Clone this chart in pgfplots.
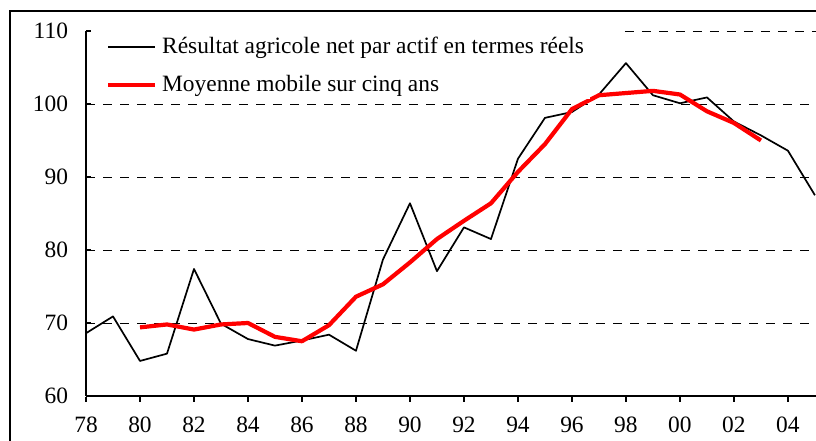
\documentclass[border=0pt]{standalone}
\usepackage{pgfplots}
\pgfplotsset{compat=1.18}
\usepackage{fontspec}
\setmainfont{Liberation Serif}
\definecolor{myred}{RGB}{255,0,0}
\begin{document}
\fontsize{23.5}{28}\selectfont
\begin{tikzpicture}[x=1bp,y=1bp]
\useasboundingbox (0,0) rectangle (816,441);
\draw[line width=1.5bp] (10,-5) -- (10,430) -- (830,430);
\begin{axis}[
  at={(86bp,45bp)}, anchor=south west, scale only axis,
  width=730bp, height=365bp,
  xmin=78, xmax=105.04, ymin=60, ymax=110,
  axis lines=left, axis line style={-, line width=1.5bp, black},
  /pgf/number format/assume math mode=true,
  xtick={78,80,...,104},
  xticklabels={78,80,82,84,86,88,90,92,94,96,98,00,02,04},
  ytick={60,70,...,100}, extra y ticks={110}, extra y tick style={grid=none},
  ymajorgrids, grid style={dash pattern=on 9bp off 8bp, black, line width=0.9bp},
  tick align=inside, major tick length=5bp,
  tick style={black, line width=1.5bp},
  xtick style={yshift=-6bp},
  xticklabel style={yshift=-13bp},
  yticklabel style={xshift=-10bp},
  clip=true,
  legend style={at={(0.0216,0.995)}, anchor=north west, fill=white, draw=none,
     inner xsep=4bp, inner ysep=2bp, row sep=14bp},
  legend cell align=left,
  legend image code/.code={\draw[#1] (0bp,0bp) -- (47bp,0bp); \path (50bp,0bp);},
]
\addplot[black, line width=1.7bp, line join=round] coordinates {
(78,68.6) (79,70.9) (80,64.8) (81,65.8) (82,77.4) (83,69.9) (84,67.8) (85,66.9)
(86,67.6) (87,68.4) (88,66.2) (89,78.7) (90,86.4) (91,77.1) (92,83.1) (93,81.5)
(94,92.5) (95,98.1) (96,98.9) (97,101.3) (98,105.6) (99,101.2) (100,100.1)
(101,100.9) (102,97.6) (103,95.7) (104,93.6) (105,87.5)
};
\addlegendentry{Résultat agricole net par actif en termes réels}
\addplot[myred, line width=4.2bp, line join=round] coordinates {
(80,69.4) (81,69.8) (82,69.1) (83,69.8) (84,70.0) (85,68.1) (86,67.5) (87,69.7)
(88,73.6) (89,75.3) (90,78.3) (91,81.5) (92,84.0) (93,86.4) (94,90.7) (95,94.5)
(96,99.3) (97,101.2) (98,101.5) (99,101.8) (100,101.3) (101,99.0) (102,97.4) (103,95.0)
};
\addlegendentry{Moyenne mobile sur cinq ans}
\draw[dash pattern=on 9bp off 8bp, black, line width=0.9bp] (axis cs:97.96,110) -- (axis cs:105.04,110);
\end{axis}
\end{tikzpicture}
\end{document}
